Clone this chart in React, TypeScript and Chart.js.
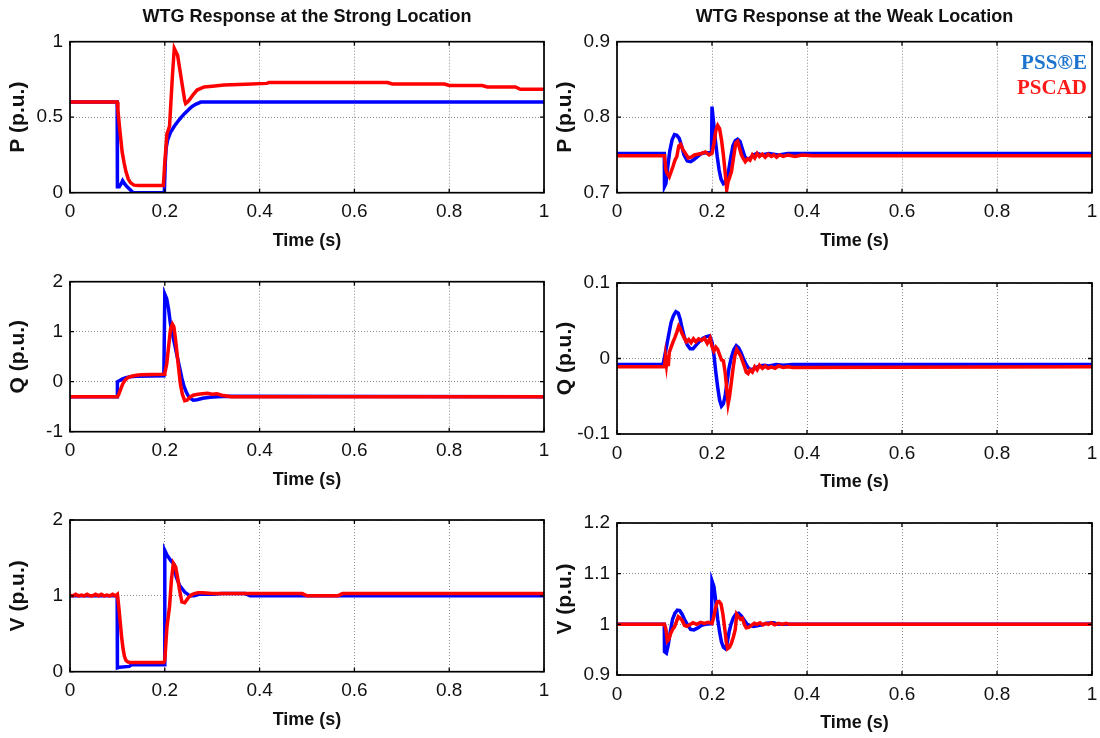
import React, { useEffect, useRef } from "react";
import { Chart, registerables } from "chart.js";

Chart.register(...registerables);

// ---- shared axis ticks ----
const timeTicks = [0, 0.2, 0.4, 0.6, 0.8, 1];
const timeTickLabels = ["0", "0.2", "0.4", "0.6", "0.8", "1"];

const strongPTicks = [0, 0.5, 1];
const strongPTickLabels = ["0", "0.5", "1"];
const strongQTicks = [-1, 0, 1, 2];
const strongQTickLabels = ["-1", "0", "1", "2"];
const strongVTicks = [0, 1, 2];
const strongVTickLabels = ["0", "1", "2"];
const weakPTicks = [0.7, 0.8, 0.9];
const weakPTickLabels = ["0.7", "0.8", "0.9"];
const weakQTicks = [-0.1, 0, 0.1];
const weakQTickLabels = ["-0.1", "0", "0.1"];
const weakVTicks = [0.9, 1.0, 1.1, 1.2];
const weakVTickLabels = ["0.9", "1", "1.1", "1.2"];

const seriesNames = ["PSS®E", "PSCAD"];

// ---- strong location: active power ----
const strongP_psseT = [0, 0.0995, 0.1, 0.104, 0.108, 0.111, 0.115, 0.12, 0.127, 0.133, 0.199, 0.201, 0.203, 0.206, 0.212, 0.22, 0.227, 0.235, 0.242, 0.25, 0.257, 0.265, 0.276, 1];
const strongP_psseV = [0.6, 0.6, 0.04, 0.04, 0.06, 0.08, 0.06, 0.04, 0.02, 0.0, 0.0, 0.2, 0.3, 0.35, 0.4, 0.44, 0.47, 0.5, 0.525, 0.55, 0.57, 0.585, 0.6, 0.6];
const strongP_pscadT = [0, 0.0995, 0.101, 0.104, 0.107, 0.11, 0.114, 0.118, 0.123, 0.128, 0.135, 0.145, 0.197, 0.2, 0.2045, 0.21, 0.216, 0.22, 0.227, 0.235, 0.242, 0.244, 0.248, 0.253, 0.26, 0.268, 0.283, 0.3, 0.325, 0.37, 0.415, 0.42, 0.67, 0.68, 0.79, 0.8, 0.87, 0.88, 0.94, 0.95, 1];
const strongP_pscadV = [0.6, 0.6, 0.55, 0.45, 0.36, 0.27, 0.2, 0.14, 0.09, 0.065, 0.05, 0.048, 0.048, 0.2, 0.39, 0.44, 0.77, 0.955, 0.91, 0.75, 0.61, 0.59, 0.6, 0.62, 0.65, 0.68, 0.7, 0.705, 0.713, 0.718, 0.724, 0.73, 0.73, 0.72, 0.72, 0.71, 0.71, 0.7, 0.7, 0.685, 0.685];

// ---- strong location: reactive power ----
const strongQ_psseT = [0, 0.0995, 0.1, 0.104, 0.11, 0.118, 0.127, 0.14, 0.198, 0.2, 0.204, 0.208, 0.212, 0.216, 0.22, 0.224, 0.228, 0.232, 0.236, 0.24, 0.245, 0.25, 0.255, 0.26, 0.268, 0.28, 0.295, 0.31, 0.335, 1];
const strongQ_psseV = [-0.3, -0.3, 0.0, 0.02, 0.05, 0.08, 0.1, 0.11, 0.12, 1.75, 1.66, 1.45, 1.15, 0.95, 0.78, 0.6, 0.42, 0.25, 0.07, -0.08, -0.2, -0.29, -0.34, -0.37, -0.36, -0.33, -0.31, -0.3, -0.29, -0.3];
const strongQ_pscadT = [0, 0.1, 0.103, 0.107, 0.111, 0.116, 0.122, 0.13, 0.14, 0.15, 0.199, 0.2, 0.204, 0.208, 0.212, 0.216, 0.219, 0.222, 0.226, 0.23, 0.233, 0.237, 0.242, 0.247, 0.253, 0.26, 0.27, 0.28, 0.29, 0.3, 0.31, 0.32, 0.34, 1];
const strongQ_pscadV = [-0.3, -0.3, -0.25, -0.15, -0.05, 0.03, 0.08, 0.11, 0.13, 0.14, 0.15, 0.17, 0.35, 0.7, 1.05, 1.15, 1.1, 0.9, 0.55, 0.2, -0.05, -0.25, -0.38, -0.37, -0.31, -0.27, -0.25, -0.24, -0.23, -0.25, -0.24, -0.27, -0.3, -0.3];

// ---- strong location: voltage ----
const strongV_psseT = [0, 0.0995, 0.1, 0.105, 0.125, 0.13, 0.199, 0.2, 0.2045, 0.212, 0.22, 0.224, 0.231, 0.242, 0.253, 0.262, 0.272, 0.3, 0.32, 0.37, 0.38, 1];
const strongV_psseV = [1.0, 1.0, 0.05, 0.06, 0.07, 0.09, 0.09, 1.6, 1.54, 1.47, 1.41, 1.25, 1.14, 1.05, 1.0, 1.0, 1.02, 1.02, 1.03, 1.03, 1.0, 1.0];
const strongV_pscadT = [0, 0.006, 0.012, 0.018, 0.024, 0.03, 0.036, 0.042, 0.048, 0.054, 0.06, 0.066, 0.072, 0.078, 0.084, 0.09, 0.096, 0.1, 0.103, 0.106, 0.109, 0.112, 0.115, 0.118, 0.122, 0.127, 0.133, 0.14, 0.198, 0.2, 0.2045, 0.21, 0.214, 0.218, 0.223, 0.227, 0.231, 0.236, 0.242, 0.25, 0.256, 0.262, 0.27, 0.28, 0.3, 0.38, 0.49, 0.5, 0.565, 0.575, 1];
const strongV_pscadV = [1.01, 1.0, 1.02, 1.0, 1.01, 1.0, 1.02, 1.0, 1.0, 1.02, 1.0, 1.02, 1.0, 1.01, 1.0, 1.02, 1.0, 1.02, 0.85, 0.65, 0.45, 0.3, 0.2, 0.15, 0.13, 0.12, 0.12, 0.12, 0.12, 0.15, 0.59, 0.86, 1.21, 1.43, 1.38, 1.24, 1.08, 0.92, 0.91, 0.98, 1.01, 1.03, 1.04, 1.04, 1.03, 1.03, 1.03, 1.0, 1.0, 1.03, 1.03];

// ---- weak location: active power ----
const weakP_psseT = [0, 0.0995, 0.1, 0.103, 0.107, 0.111, 0.116, 0.121, 0.126, 0.131, 0.136, 0.141, 0.148, 0.155, 0.162, 0.17, 0.178, 0.186, 0.196, 0.199, 0.2, 0.203, 0.207, 0.211, 0.215, 0.219, 0.224, 0.229, 0.234, 0.239, 0.244, 0.249, 0.254, 0.259, 0.264, 0.269, 0.274, 0.28, 0.287, 0.295, 0.305, 0.32, 0.34, 0.36, 0.37, 1];
const weakP_psseV = [0.752, 0.752, 0.708, 0.712, 0.735, 0.755, 0.77, 0.777, 0.776, 0.772, 0.762, 0.75, 0.742, 0.741, 0.744, 0.748, 0.752, 0.753, 0.753, 0.754, 0.814, 0.795, 0.77, 0.748, 0.73, 0.718, 0.712, 0.714, 0.725, 0.745, 0.762, 0.769, 0.771, 0.768, 0.758, 0.748, 0.744, 0.746, 0.75, 0.752, 0.75, 0.752, 0.75, 0.752, 0.752, 0.752];
const weakP_pscadT = [0, 0.1, 0.103, 0.106, 0.11, 0.114, 0.118, 0.122, 0.126, 0.13, 0.134, 0.138, 0.144, 0.15, 0.156, 0.163, 0.17, 0.178, 0.186, 0.194, 0.2, 0.204, 0.208, 0.212, 0.216, 0.22, 0.224, 0.228, 0.231, 0.234, 0.237, 0.241, 0.245, 0.25, 0.254, 0.258, 0.262, 0.266, 0.27, 0.275, 0.28, 0.285, 0.29, 0.295, 0.3, 0.306, 0.312, 0.318, 0.325, 0.33, 0.336, 0.342, 0.35, 0.36, 0.375, 0.39, 0.41, 1];
const weakP_pscadV = [0.749, 0.749, 0.73, 0.725, 0.721, 0.728, 0.735, 0.743, 0.748, 0.762, 0.764, 0.758, 0.752, 0.746, 0.747, 0.75, 0.751, 0.752, 0.754, 0.75, 0.752, 0.765, 0.782, 0.789, 0.785, 0.77, 0.75, 0.725, 0.704, 0.715, 0.72, 0.728, 0.745, 0.766, 0.768, 0.759, 0.75, 0.745, 0.741, 0.745, 0.743, 0.75, 0.746, 0.752, 0.748, 0.751, 0.747, 0.751, 0.748, 0.75, 0.747, 0.75, 0.748, 0.75, 0.748, 0.75, 0.749, 0.749];

// ---- weak location: reactive power ----
const weakQ_psseT = [0, 0.097, 0.1, 0.104, 0.109, 0.114, 0.119, 0.124, 0.129, 0.133, 0.137, 0.142, 0.148, 0.154, 0.16, 0.167, 0.174, 0.181, 0.188, 0.195, 0.2, 0.204, 0.208, 0.212, 0.216, 0.22, 0.224, 0.228, 0.232, 0.236, 0.241, 0.246, 0.251, 0.256, 0.261, 0.266, 0.271, 0.276, 0.282, 0.29, 0.3, 0.31, 0.32, 0.335, 0.35, 0.37, 0.38, 1];
const weakQ_psseV = [-0.008, -0.008, 0.002, 0.015, 0.032, 0.048, 0.057, 0.062, 0.06, 0.052, 0.04, 0.028, 0.018, 0.013, 0.013, 0.018, 0.023, 0.027, 0.029, 0.03, 0.022, 0.005, -0.018, -0.038, -0.055, -0.063, -0.06, -0.048, -0.03, -0.012, 0.002, 0.012, 0.017, 0.014, 0.008, 0.0, -0.007, -0.012, -0.015, -0.013, -0.01, -0.009, -0.01, -0.008, -0.009, -0.008, -0.008, -0.008];
const weakQ_pscadT = [0, 0.1, 0.102, 0.104, 0.106, 0.108, 0.11, 0.114, 0.118, 0.122, 0.126, 0.13, 0.133, 0.137, 0.141, 0.146, 0.151, 0.156, 0.161, 0.166, 0.172, 0.178, 0.184, 0.19, 0.196, 0.2, 0.204, 0.208, 0.212, 0.216, 0.22, 0.224, 0.228, 0.231, 0.234, 0.237, 0.24, 0.244, 0.248, 0.252, 0.256, 0.26, 0.264, 0.268, 0.272, 0.276, 0.28, 0.285, 0.29, 0.295, 0.3, 0.306, 0.312, 0.318, 0.325, 0.333, 0.34, 0.35, 0.36, 0.37, 1];
const weakQ_pscadV = [-0.011, -0.011, 0.002, -0.008, 0.004, -0.01, 0.008, 0.015, 0.022, 0.028, 0.035, 0.043, 0.04, 0.033, 0.028, 0.022, 0.025, 0.021, 0.026, 0.022, 0.026, 0.024, 0.027, 0.02, 0.027, 0.016, 0.01, 0.015, 0.012, 0.005, -0.002, -0.003, -0.02, -0.04, -0.06, -0.05, -0.035, -0.015, 0.003, 0.012, 0.008, 0.004, -0.003, -0.01, -0.018, -0.02, -0.015, -0.018, -0.011, -0.015, -0.009, -0.013, -0.01, -0.013, -0.011, -0.013, -0.01, -0.012, -0.011, -0.012, -0.011];

// ---- weak location: voltage ----
const weakV_psseT = [0, 0.0995, 0.1, 0.104, 0.108, 0.112, 0.117, 0.122, 0.127, 0.132, 0.137, 0.142, 0.148, 0.155, 0.162, 0.17, 0.178, 0.186, 0.197, 0.199, 0.2, 0.204, 0.208, 0.212, 0.216, 0.22, 0.224, 0.228, 0.232, 0.236, 0.24, 0.245, 0.25, 0.256, 0.262, 0.268, 0.274, 0.28, 0.287, 0.295, 0.305, 0.315, 0.33, 0.34, 1];
const weakV_psseV = [1.0, 1.0, 0.946, 0.943, 0.96, 0.985, 1.01, 1.022, 1.028, 1.027, 1.02, 1.01, 1.0, 0.99, 0.989, 0.993, 0.998, 1.0, 1.001, 1.001, 1.086, 1.075, 1.045, 1.01, 0.985, 0.965, 0.955, 0.952, 0.963, 0.985, 1.0, 1.013, 1.02, 1.022, 1.016, 1.008, 1.0, 0.998, 0.996, 0.997, 0.999, 1.002, 1.003, 1.0, 1.0];
const weakV_pscadT = [0, 0.1, 0.103, 0.106, 0.109, 0.113, 0.117, 0.121, 0.125, 0.129, 0.133, 0.137, 0.142, 0.147, 0.153, 0.16, 0.168, 0.176, 0.184, 0.192, 0.2, 0.203, 0.207, 0.211, 0.215, 0.219, 0.223, 0.227, 0.23, 0.233, 0.237, 0.241, 0.245, 0.249, 0.252, 0.256, 0.26, 0.264, 0.268, 0.272, 0.277, 0.283, 0.289, 0.295, 0.301, 0.307, 0.313, 0.319, 0.325, 0.332, 0.34, 0.348, 0.356, 0.362, 1];
const weakV_pscadV = [1.0, 1.0, 0.99, 0.967, 0.97, 0.982, 0.99, 0.995, 1.005, 1.015, 1.012, 1.008, 0.998, 0.996, 0.999, 1.003, 1.0, 1.004, 1.002, 1.004, 1.002, 1.012, 1.03, 1.044, 1.045, 1.04, 1.02, 0.99, 0.965, 0.952, 0.955, 0.963, 0.975, 0.99, 1.02, 1.015, 1.01, 1.012, 1.0, 0.993, 0.994, 0.998, 1.002, 1.0, 1.003, 0.999, 1.002, 1.0, 1.003, 0.999, 1.002, 1.0, 1.002, 1.0, 1.0];

// ---- styling ----
const SANS = '"Liberation Sans", Arial, Helvetica, sans-serif';
const SERIF = '"Liberation Serif", "Times New Roman", serif';
const PSSE_LINE = "#0000ff";
const PSCAD_LINE = "#ff0000";
const legendColors = ["#1c74cf", "#ff1a1a"];

const Y_AXIS_W = 64.5; // room for tick labels and the rotated axis title
const X_AXIS_H = 58.8; // room for tick labels and "Time (s)"
const TITLE_H = 41.7;

type Rect = { left: number; top: number; right: number; bottom: number };
type Box = { x: number; y: number; w: number; h: number };

interface PanelDef {
  key: string;
  plot: Rect;
  canvas: Box;
  title?: string;
  yLabel: string;
  yMin: number;
  yMax: number;
  yTicks: number[];
  yTickLabels: string[];
  psse: [number[], number[]];
  pscad: [number[], number[]];
  legend?: boolean;
}

const LEFT_COL = { left: 70, right: 544, x: 0, w: 550 };
const RIGHT_COL = { left: 617, right: 1092, x: 550, w: 550 };
const ROW_CANVAS = [
  { y: 0, h: 256 },
  { y: 256, h: 240 },
  { y: 496, h: 242 },
];

function panel(
  key: string,
  col: typeof LEFT_COL,
  row: number,
  top: number,
  bottom: number,
  rest: Omit<PanelDef, "key" | "plot" | "canvas">
): PanelDef {
  return {
    key,
    plot: { left: col.left, right: col.right, top, bottom },
    canvas: { x: col.x, y: ROW_CANVAS[row].y, w: col.w, h: ROW_CANVAS[row].h },
    ...rest,
  };
}

const panels: PanelDef[] = [
  panel("strongP", LEFT_COL, 0, 41.7, 192.7, {
    title: "WTG Response at the Strong Location",
    yLabel: "P (p.u.)", yMin: 0, yMax: 1,
    yTicks: strongPTicks, yTickLabels: strongPTickLabels,
    psse: [strongP_psseT, strongP_psseV], pscad: [strongP_pscadT, strongP_pscadV],
  }),
  panel("weakP", RIGHT_COL, 0, 41.7, 192.7, {
    title: "WTG Response at the Weak Location",
    yLabel: "P (p.u.)", yMin: 0.7, yMax: 0.9,
    yTicks: weakPTicks, yTickLabels: weakPTickLabels,
    psse: [weakP_psseT, weakP_psseV], pscad: [weakP_pscadT, weakP_pscadV],
    legend: true,
  }),
  panel("strongQ", LEFT_COL, 1, 281.7, 431.7, {
    yLabel: "Q (p.u.)", yMin: -1, yMax: 2,
    yTicks: strongQTicks, yTickLabels: strongQTickLabels,
    psse: [strongQ_psseT, strongQ_psseV], pscad: [strongQ_pscadT, strongQ_pscadV],
  }),
  panel("weakQ", RIGHT_COL, 1, 283, 434, {
    yLabel: "Q (p.u.)", yMin: -0.1, yMax: 0.1,
    yTicks: weakQTicks, yTickLabels: weakQTickLabels,
    psse: [weakQ_psseT, weakQ_psseV], pscad: [weakQ_pscadT, weakQ_pscadV],
  }),
  panel("strongV", LEFT_COL, 2, 520, 671.7, {
    yLabel: "V (p.u.)", yMin: 0, yMax: 2,
    yTicks: strongVTicks, yTickLabels: strongVTickLabels,
    psse: [strongV_psseT, strongV_psseV], pscad: [strongV_pscadT, strongV_pscadV],
  }),
  panel("weakV", RIGHT_COL, 2, 523, 675, {
    yLabel: "V (p.u.)", yMin: 0.9, yMax: 1.2,
    yTicks: weakVTicks, yTickLabels: weakVTickLabels,
    psse: [weakV_psseT, weakV_psseV], pscad: [weakV_pscadT, weakV_pscadV],
  }),
];

const toPoints = (t: number[], v: number[]) => t.map((x, i) => ({ x, y: v[i] }));

// Closed axes box with short inward tick marks, plus the text legend.
const axesBoxPlugin = {
  id: "axesBox",
  afterDatasetsDraw(chart: any, _args: any, opts: any) {
    const { ctx, chartArea: a, scales } = chart;
    ctx.save();
    ctx.strokeStyle = "#000";
    ctx.lineWidth = 1.7;
    ctx.strokeRect(a.left, a.top, a.right - a.left, a.bottom - a.top);
    ctx.lineWidth = 1.3;
    const len = 4;
    ctx.beginPath();
    for (const tk of scales.x.ticks) {
      const px = scales.x.getPixelForValue(tk.value);
      ctx.moveTo(px, a.bottom);
      ctx.lineTo(px, a.bottom - len);
      ctx.moveTo(px, a.top);
      ctx.lineTo(px, a.top + len);
    }
    for (const tk of scales.y.ticks) {
      const py = scales.y.getPixelForValue(tk.value);
      ctx.moveTo(a.left, py);
      ctx.lineTo(a.left + len, py);
      ctx.moveTo(a.right, py);
      ctx.lineTo(a.right - len, py);
    }
    ctx.stroke();

    if (opts && opts.legend) {
      ctx.font = `bold 21px ${SERIF}`;
      ctx.textAlign = "right";
      ctx.textBaseline = "middle";
      const names: string[] = chart.data.datasets
        .slice()
        .sort((p: any, q: any) => p.legendIndex - q.legendIndex)
        .map((d: any) => d.label);
      names.forEach((name, i) => {
        ctx.fillStyle = legendColors[i];
        ctx.fillText(name, a.right - 5, a.top + 22 + i * 24.5);
      });
    }
    ctx.restore();
  },
};

function PanelChart({ def }: { def: PanelDef }) {
  const ref = useRef<HTMLCanvasElement | null>(null);

  useEffect(() => {
    if (!ref.current) return;
    const { plot, canvas } = def;
    const titleH = def.title ? TITLE_H : 0;
    const padding = {
      left: plot.left - canvas.x - Y_AXIS_W,
      right: canvas.x + canvas.w - plot.right,
      top: plot.top - canvas.y - titleH,
      bottom: canvas.y + canvas.h - plot.bottom - X_AXIS_H,
    };

    const chart = new Chart(ref.current, {
      type: "line",
      data: {
        datasets: [
          {
            label: seriesNames[1],
            legendIndex: 1,
            data: toPoints(def.pscad[0], def.pscad[1]),
            borderColor: PSCAD_LINE,
            borderWidth: 3.5,
            pointRadius: 0,
            tension: 0,
            order: 0,
          } as any,
          {
            label: seriesNames[0],
            legendIndex: 0,
            data: toPoints(def.psse[0], def.psse[1]),
            borderColor: PSSE_LINE,
            borderWidth: 3.5,
            pointRadius: 0,
            tension: 0,
            order: 1,
          } as any,
        ],
      },
      options: {
        animation: false,
        responsive: false,
        devicePixelRatio: 1,
        events: [],
        layout: { padding },
        plugins: {
          legend: { display: false },
          tooltip: { enabled: false },
          title: {
            display: !!def.title,
            text: def.title || "",
            fullSize: false,
            color: "#111",
            font: { family: SANS, size: 18, weight: "bold" },
            padding: { top: 6.5, bottom: TITLE_H - 6.5 - 21.6 },
          },
          axesBox: { legend: !!def.legend },
        } as any,
        scales: {
          x: {
            type: "linear",
            min: 0,
            max: 1,
            afterBuildTicks: (s: any) => {
              s.ticks = timeTicks.map((value) => ({ value }));
            },
            afterFit: (s: any) => {
              s.height = X_AXIS_H;
              s.paddingLeft = 0;
              s.paddingRight = 0;
            },
            ticks: {
              autoSkip: false,
              maxRotation: 0,
              padding: 8,
              color: "#111",
              font: { family: SANS, size: 19 },
              callback: (_v: any, i: number) => timeTickLabels[i],
            },
            grid: {
              drawTicks: false,
              color: "#8c8c8c",
              lineWidth: 1,
            },
            border: { display: false, dash: [1, 2] },
            title: {
              display: true,
              text: "Time (s)",
              color: "#111",
              font: { family: SANS, size: 18, weight: "bold" },
              padding: 0,
            },
          },
          y: {
            type: "linear",
            min: def.yMin,
            max: def.yMax,
            afterBuildTicks: (s: any) => {
              s.ticks = def.yTicks.map((value) => ({ value }));
            },
            afterFit: (s: any) => {
              s.width = Y_AXIS_W;
              s.paddingTop = 0;
              s.paddingBottom = 0;
            },
            ticks: {
              autoSkip: false,
              padding: 7,
              color: "#111",
              font: { family: SANS, size: 19 },
              callback: (_v: any, i: number) => def.yTickLabels[i],
            },
            grid: {
              drawTicks: false,
              color: "#8c8c8c",
              lineWidth: 1,
            },
            border: { display: false, dash: [1, 2] },
            title: {
              display: true,
              text: def.yLabel,
              color: "#111",
              font: { family: SANS, size: 21, weight: "bold" },
              padding: 0,
            },
          },
        },
      } as any,
      plugins: [axesBoxPlugin],
    });

    return () => chart.destroy();
  }, [def]);

  return (
    <canvas
      ref={ref}
      width={def.canvas.w}
      height={def.canvas.h}
      style={{ position: "absolute", left: def.canvas.x, top: def.canvas.y }}
    />
  );
}

export default function App() {
  return (
    <div
      style={{
        position: "absolute",
        left: 0,
        top: 0,
        width: 1100,
        height: 738,
        background: "#fff",
        overflow: "hidden",
      }}
    >
      {panels.map((p) => (
        <PanelChart key={p.key} def={p} />
      ))}
    </div>
  );
}
